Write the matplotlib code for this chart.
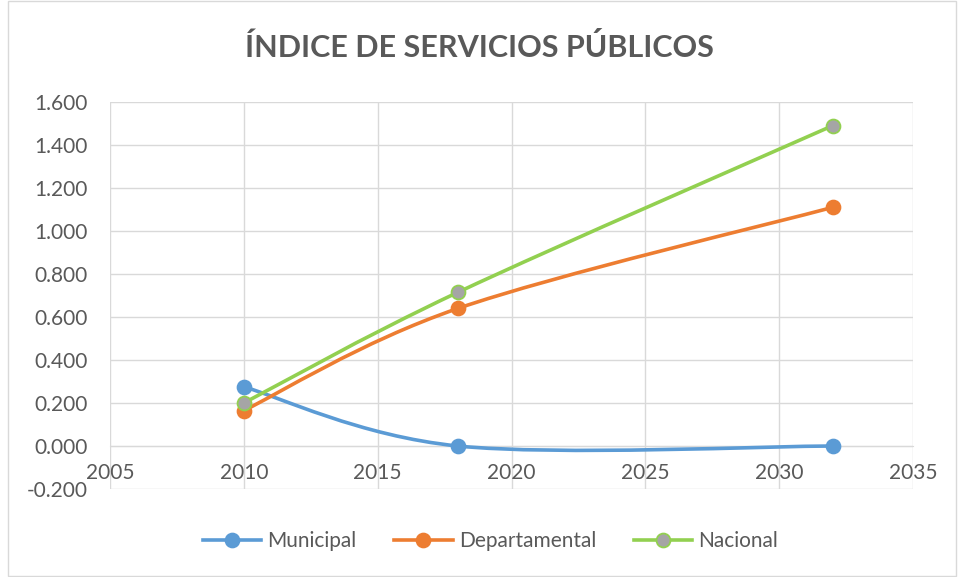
import numpy as np
import matplotlib.pyplot as plt
from matplotlib.path import Path
from matplotlib.patches import PathPatch, Rectangle
from matplotlib.lines import Line2D
from matplotlib.ticker import FuncFormatter

years = [2010, 2018, 2032]
municipal = [0.275, 0.0, 0.0]
departamental = [0.165, 0.640, 1.110]
nacional = [0.200, 0.715, 1.490]

series = [
    ("Municipal", municipal, "#5B9BD5", "#5B9BD5", "#5B9BD5"),
    ("Departamental", departamental, "#ED7D31", "#ED7D31", "#ED7D31"),
    ("Nacional", nacional, "#92D050", "#A5A5A5", "#92D050"),
]

plt.rcParams['font.family'] = ['Lato', 'DejaVu Sans']
grey = "#595959"
grid_c = "#D9D9D9"

fig = plt.figure(figsize=(9.58, 5.77), dpi=100)
fig.patches.append(Rectangle((8 / 958, 0.002), 948 / 958, 0.996, transform=fig.transFigure,
                             fill=False, edgecolor=grid_c, linewidth=1))
ax = fig.add_axes([110 / 958, 88 / 577, 803 / 958, 387 / 577])

xmin, xmax, ymin, ymax = 2005, 2035, -0.2, 1.6
# scale factors so smoothing is done in (roughly) screen space
sx = 803 / (xmax - xmin)
sy = 387 / (ymax - ymin)


def smooth_path(xs, ys):
    pts = np.column_stack([np.array(xs) * sx, np.array(ys) * sy])
    n = len(pts)
    verts = [pts[0]]
    codes = [Path.MOVETO]
    for i in range(n - 1):
        p0 = pts[max(i - 1, 0)]
        p1 = pts[i]
        p2 = pts[i + 1]
        p3 = pts[min(i + 2, n - 1)]
        c1 = p1 + (p2 - p0) / 6
        c2 = p2 - (p3 - p1) / 6
        verts += [c1, c2, p2]
        codes += [Path.CURVE4] * 3
    verts = np.array(verts)
    verts[:, 0] /= sx
    verts[:, 1] /= sy
    return Path(verts, codes)


handles = []
for name, vals, lc, mfc, mec in series:
    ax.add_patch(PathPatch(smooth_path(years, vals), fill=False, edgecolor=lc,
                           linewidth=2.6, capstyle='round', zorder=3))
    ax.plot(years, vals, linestyle='none', marker='o', markersize=10,
            markerfacecolor=mfc, markeredgecolor=mec, markeredgewidth=1.3, zorder=4)
    handles.append(Line2D([], [], color=lc, linewidth=2.6, marker='o', markersize=10,
                          markerfacecolor=mfc, markeredgecolor=mec, markeredgewidth=1.3))

ax.set_xlim(xmin, xmax)
ax.set_ylim(ymin, ymax)
ax.set_xticks(np.arange(2005, 2036, 5))
ax.set_yticks(np.arange(-0.2, 1.61, 0.2))
ax.yaxis.set_major_formatter(FuncFormatter(lambda v, p: f"{v:.3f}".replace("-0.000", "0.000")))
ax.grid(True, color=grid_c, linewidth=1)
ax.set_axisbelow(True)
for s in ['top', 'right', 'left']:
    ax.spines[s].set_visible(False)
ax.spines['bottom'].set_position(('data', 0))
ax.spines['bottom'].set_color(grid_c)
ax.tick_params(axis='both', length=0, labelsize=15, labelcolor=grey)
ax.tick_params(axis='y', pad=16)
ax.tick_params(axis='x', pad=12)

fig.text(0.5, 0.918, "ÍNDICE DE SERVICIOS PÚBLICOS", ha='center', va='center',
         fontsize=22, fontweight='bold', color=grey)

fig.legend(handles, [s[0] for s in series], loc='center', bbox_to_anchor=(0.512, 0.062),
           ncol=3, frameon=False, fontsize=15, labelcolor=grey, handlelength=2.8,
           columnspacing=1.8, handletextpad=0.3)

fig.savefig("out.png", dpi=100)
